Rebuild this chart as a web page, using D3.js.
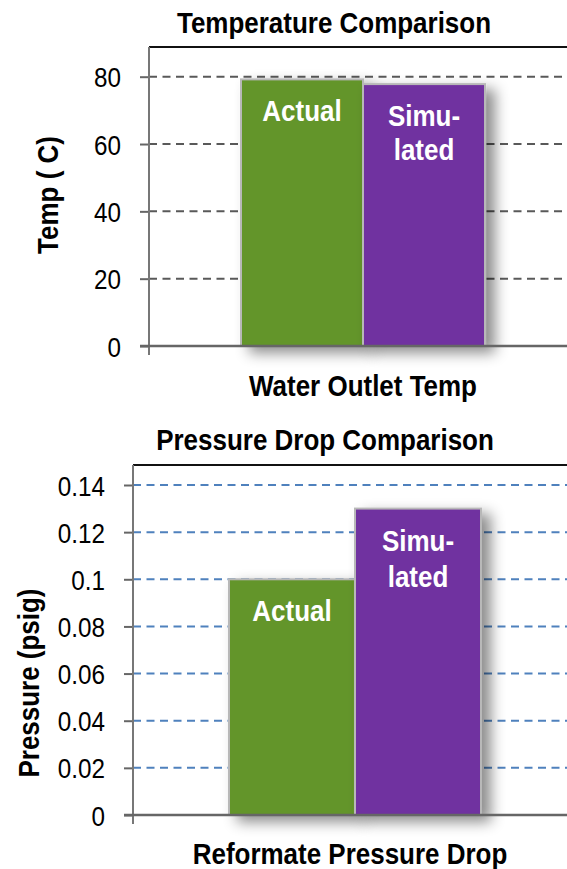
<!DOCTYPE html>
<html>
<head>
<meta charset="utf-8">
<script src="https://cdn.jsdelivr.net/npm/d3@7"></script>
<style>
  body { margin: 0; background: #fff; }
  text { font-family: "Liberation Sans", Arial, sans-serif; }
</style>
</head>
<body>
<div id="chartArea"></div>
<script>
// data
let seriesNames = ['Actual', 'Simulated'];
let seriesLabels = [['Actual'], ['Simu-', 'lated']];
let seriesColors = ['#64952b', '#7030a0'];

let tempCategories = ['Water Outlet Temp'];
let tempActual = [79.2];
let tempSimulated = [77.8];
let tempTicks = [0, 20, 40, 60, 80];

let pressureCategories = ['Reformate Pressure Drop'];
let pressureActual = [0.10];
let pressureSimulated = [0.13];
let pressureTicks = [0, 0.02, 0.04, 0.06, 0.08, 0.1, 0.12, 0.14];

// narrow look: Arial Narrow is not installed, so squeeze Liberation Sans
let squeeze = 0.866;

let svg = d3.select('#chartArea')
    .append('svg')
        .attr('width', 567)
        .attr('height', 869);

// bar shadow
let defs = svg.append('defs');
let filter = defs.append('filter')
    .attr('id', 'shadow')
    .attr('x', '-20%').attr('y', '-20%')
    .attr('width', '160%').attr('height', '140%');
filter.append('feDropShadow')
    .attr('dx', 9).attr('dy', 6)
    .attr('stdDeviation', 7)
    .attr('flood-color', '#000')
    .attr('flood-opacity', 0.45);

// put a squeezed text at (x, y)
function label(parent, x, y, txt, size, bold, rotate) {
    let t = parent.append('text')
        .attr('transform', 'translate(' + x + ',' + y + ')' +
            (rotate ? ' rotate(' + rotate + ')' : '') +
            ' scale(' + squeeze + ',1)')
        .attr('text-anchor', 'middle')
        .style('font-size', size + 'px')
        .style('font-weight', bold ? 'bold' : 'normal')
        .text(txt);
    return t;
}

function drawChart(opts) {
    let m = opts.margins;
    let w = 577 - m.left,
        h = opts.bottom - m.top;

    // top tick sits lastTickPx above the baseline, frame top is a bit higher
    let yMax = opts.ticks[opts.ticks.length - 1] * h / opts.lastTickPx;

    let g = svg.append('g')
        .attr('transform', 'translate(' + m.left + ',' + m.top + ')');

    let yScale = d3.scaleLinear()
        .domain([0, yMax])
        .range([h, 0]);

    let xScale = d3.scaleBand()
        .domain(opts.categories)
        .range([0, w])
        .paddingInner(0)
        .paddingOuter(opts.outerPad);

    let xSeries = d3.scaleBand()
        .domain(seriesNames)
        .range([0, xScale.bandwidth()])
        .padding(0);

    // gridlines
    g.append('g')
        .selectAll('line')
        .data(opts.ticks.filter(d => d > 0))
        .join('line')
            .attr('x1', 0)
            .attr('x2', w)
            .attr('y1', d => yScale(d))
            .attr('y2', d => yScale(d))
            .attr('stroke', opts.gridColor)
            .attr('stroke-width', 2)
            .attr('stroke-dasharray', '8,5.5');

    // frame top
    g.append('line')
        .attr('x1', 0).attr('x2', w)
        .attr('y1', 0).attr('y2', 0)
        .attr('stroke', '#111')
        .attr('stroke-width', 2);

    // bars
    let rows = opts.categories.map((c, i) => ({
        cat: c,
        vals: [opts.actual[i], opts.simulated[i]]
    }));

    let bars = g.append('g')
        .selectAll('g')
        .data(rows)
        .join('g')
            .attr('transform', d => 'translate(' + xScale(d.cat) + ',0)');

    let barData = d => d.vals.map((v, j) => ({ name: seriesNames[j], value: v, j: j }));

    bars.selectAll('rect')
        .data(barData)
        .join('rect')
            .attr('x', d => xSeries(d.name))
            .attr('y', d => yScale(d.value))
            .attr('width', xSeries.bandwidth())
            .attr('height', d => h - yScale(d.value))
            .attr('fill', d => seriesColors[d.j])
            .attr('stroke', '#b8b8b8')
            .attr('stroke-width', 2)
            .attr('filter', 'url(#shadow)');

    // labels inside bars
    bars.each(function (d) {
        let grp = d3.select(this);
        barData(d).forEach(b => {
            seriesLabels[b.j].forEach((s, k) => {
                label(grp, xSeries(b.name) + xSeries.bandwidth() / 2,
                    yScale(b.value) + 42 + k * opts.lineGap, s, 30, true)
                    .attr('fill', '#fff');
            });
        });
    });

    // y axis
    let yAxis = g.append('g')
        .attr('class', 'y axis')
        .call(d3.axisLeft(yScale)
            .tickValues(opts.ticks)
            .tickSize(9)
            .tickFormat(d => d3.format(opts.fmt)(d)));
    yAxis.select('.domain').remove();
    yAxis.selectAll('line').attr('stroke', '#666').attr('stroke-width', 2);
    yAxis.selectAll('text')
        .attr('x', null)
        .attr('dy', '0.36em')
        .attr('transform', 'translate(-28,0) scale(' + squeeze + ',1)')
        .attr('fill', '#000')
        .style('font-size', '28px')
        .style('font-family', '"Liberation Sans", Arial, sans-serif');

    // axis lines
    g.append('line')
        .attr('x1', 0).attr('x2', 0)
        .attr('y1', 0).attr('y2', h + 9)
        .attr('stroke', '#777')
        .attr('stroke-width', 2);
    g.append('line')
        .attr('x1', -9).attr('x2', w)
        .attr('y1', h).attr('y2', h)
        .attr('stroke', '#666')
        .attr('stroke-width', 2.5);

    // titles
    label(svg, opts.titleX, opts.titleY, opts.title, 30, true);
    label(svg, opts.xLabelX, opts.xLabelY, opts.categories[0], 30, true);
    label(svg, opts.yLabelX, opts.yLabelY, opts.yLabel, 30, true, -90);
}

drawChart({
    margins: { top: 47, left: 149 },
    bottom: 346,
    lastTickPx: 269.3,
    ticks: tempTicks,
    fmt: 'd',
    categories: tempCategories,
    actual: tempActual,
    simulated: tempSimulated,
    outerPad: 0.377,
    lineGap: 34,
    gridColor: '#595959',
    title: 'Temperature Comparison',
    titleX: 334, titleY: 32.5,
    xLabelX: 363, xLabelY: 396,
    yLabel: 'Temp ( C)',
    yLabelX: 58, yLabelY: 195
});

drawChart({
    margins: { top: 465, left: 133 },
    bottom: 815,
    lastTickPx: 330,
    ticks: pressureTicks,
    fmt: '',
    categories: pressureCategories,
    actual: pressureActual,
    simulated: pressureSimulated,
    outerPad: 0.381,
    lineGap: 36,
    gridColor: '#4f81bd',
    title: 'Pressure Drop Comparison',
    titleX: 325, titleY: 450,
    xLabelX: 350, xLabelY: 864,
    yLabel: 'Pressure (psig)',
    yLabelX: 39, yLabelY: 683
});
</script>
</body>
</html>
